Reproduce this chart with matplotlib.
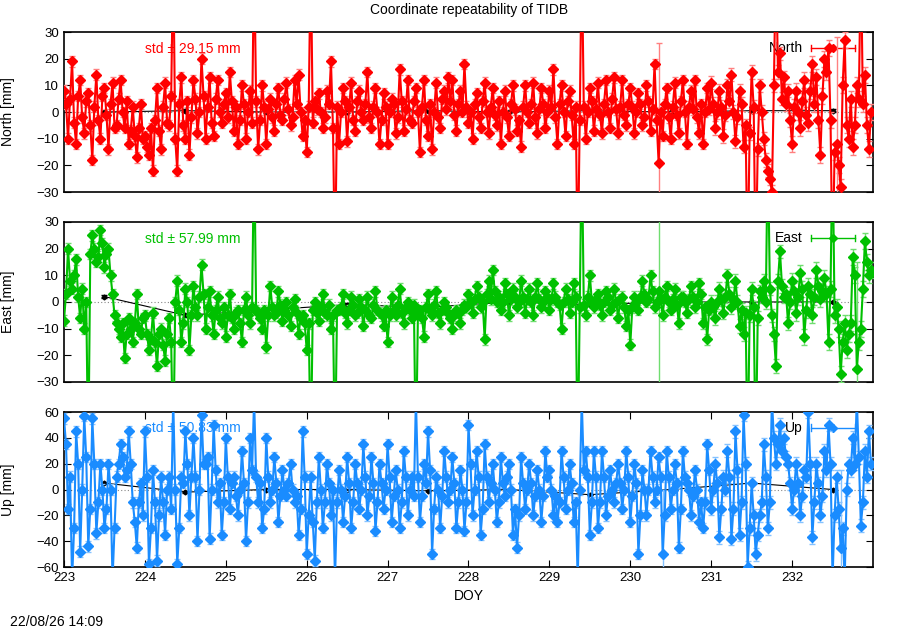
import numpy as np
import matplotlib
matplotlib.use('Agg')
import matplotlib.pyplot as plt

plt.rcParams['font.family'] = ['Liberation Sans', 'DejaVu Sans']

# epochs: two readings per 0.05 day step (at +0.000 and +0.025)
doy_a = np.round(np.arange(223.0, 233.0, 0.05), 3)
doy_b = np.round(doy_a + 0.025, 3)

# values [mm], 20 per day; +-60/70 = off-scale points
# *_a = band edges at the step, *_b = interior readings half a step later
north_a = [
    8, -10, 19, -12, 12, -8, 7, -18, 14, -10, 9, -14, 11, -5, 12, -6, -12, 2, -17, 3,
    -9, -16, -22, 9, -14, 11, -5, 60, -22, 13, -10, -16, 12, -8, 20, -10, 13, -9, 12, -4,
    7, 15, -7, -12, 10, -10, 8, 60, -14, 10, -12, 5, -7, 9, -3, 11, -5, 12, 14, -9,
    -15, 60, 4, 7, -6, 8, 19, -60, -12, 9, -11, 11, -7, 8, -3, 15, -6, 9, -12, 7,
    -12, 5, -8, 16, -7, 12, -4, 9, -15, 12, -9, -14, 11, -6, 8, 13, 12, -7, 8, 18,
    -4, -10, 7, -6, 11, -8, 9, -5, -12, 8, -9, 10, -7, -13, 10, -4, 11, -8, 9, -6,
    8, 16, -12, 10, -9, 8, -12, -60, 60, -10, 9, -7, 11, -8, 12, -6, 13, -8, 12, -5,
    9, -8, 7, -5, 10, -7, 18, -19, -9, 9, -10, 11, -8, 12, -12, 8, 12, -8, -12, 9,
    11, -6, 8, -9, 10, 14, -11, 8, -13, -60, 15, -60, 10, -10, -22, -30, 60, 22, 13, 8,
    -12, 8, -6, 12, -4, 18, 13, -16, 20, 24, -60, -12, -28, 27, -10, -13, 10, 60, 14, -14,
]
north_b = [
    3, 5, -4, 6, -2, 4, -5, 2, -3, 6, -1, 3, -6, 5, 0, 4, -7, -9, -6, -10,
    -13, -6, -3, -7, 2, -4, 6, -10, 3, -5, 4, -2, 5, 0, 6, 2, -4, 5, 0, 3,
    -2, 4, 2, -3, 3, 0, -4, 4, -3, 2, 1, -2, 3, -1, 5, 1, -2, 3, 0, -3,
    2, -4, 1, 0, -2, 3, -6, 2, 0, 4, 2, -3, 4, 0, 3, -2, 2, 0, -3, 2,
    0, 3, -2, 4, 1, -3, 4, 0, 2, -3, 3, 0, -2, 5, 1, 4, -1, 3, 0, 2,
    0, 3, -2, 4, 0, 2, -1, 4, 0, -2, 3, 1, -3, 2, 0, 3, -2, 1, 3, 0,
    2, -2, 3, 0, 4, -1, 2, -3, 2, 0, 4, 1, -1, 3, 0, 5, 1, 2, -1, 3,
    2, 0, 3, -2, 4, 1, -3, 0, 3, -2, 2, -1, 4, 0, 2, 1, -2, 3, 0, 1,
    3, 0, 2, -1, 4, 0, -2, 3, -5, -8, 2, -14, 0, -18, -25, 10, 15, 5, 3, -3,
    2, 0, 4, -1, 8, 3, -3, 6, 15, -3, -15, -20, 10, -5, 5, -5, 5, 3, -5, 0,
]
east_a = [
    -7, 20, 5, 16, -6, -10, -60, 25, 15, 27, 13, 20, 3, -8, -13, -21, -6, -15, 3, -12,
    -5, -18, -4, -24, -10, -22, -6, -60, 8, -15, 5, -18, 6, -5, 14, -10, 4, -12, 2, -8,
    -13, 3, -10, -3, -15, 2, -8, 60, -4, -10, -17, 6, -5, 4, -7, 0, -9, 1, -12, -5,
    -18, -60, 0, -7, 3, -5, -10, -60, -3, 3, -8, 2, -5, 1, -9, 2, -6, 4, -4, -9,
    -15, 2, -5, 5, -8, 0, -6, -60, -3, -13, 3, -5, 4, -8, 0, -4, -10, -3, -8, -1,
    3, -4, 6, -2, -14, 8, 12, 0, -3, 7, -5, 5, -2, 8, -4, 5, -5, 7, -2, 4,
    -3, 7, 0, -10, 5, -4, 7, -60, 60, -5, 10, -2, 3, -5, 4, -3, 5, -6, 2, -9,
    -16, 2, -3, 8, 0, 10, -2, 4, -5, 6, -3, 5, -8, 2, -4, 6, -2, 7, -8, -14,
    0, -6, 5, -4, 10, -2, 8, -9, -12, -60, 5, -60, 4, 8, 60, -5, -24, 19, 2, -8,
    8, -4, 11, -13, 6, -5, 12, 1, 9, -15, 60, -2, -27, -8, -12, 17, -25, -10, 23, 10,
]
east_b = [
    3, 8, 10, 2, 5, 0, 18, 20, 17, 22, 18, 10, -5, -10, -8, -12, -10, -8, -10, -6,
    -12, -14, -15, -12, -16, -12, -15, 0, -3, -8, 0, -5, -2, 2, 3, -2, -5, -3, -6, -2,
    -5, -6, -4, -8, -3, -5, -2, -3, -6, -3, -5, -2, -4, -1, -3, -5, -2, -4, -6, -8,
    -8, -3, -4, -2, -4, -1, -5, -3, -2, -4, -3, -1, -4, -2, -3, -5, -1, -3, -5, -3,
    -5, -3, -1, -4, -2, -3, -1, -4, -6, -2, -3, -1, -4, -3, -2, -6, -5, -4, -3, -2,
    0, 1, 2, 0, 3, 1, 4, 2, 0, 3, 1, 2, 0, 2, 1, 0, 2, 1, 0, 2,
    1, 2, -1, 0, 1, 0, 2, -2, -1, 2, 0, 1, -1, 0, 2, -1, 0, 1, -2, -3,
    -2, 0, 2, 3, 1, 4, 0, 1, 2, 0, 1, -1, 2, 0, 1, 2, 0, 3, -2, -3,
    -2, 0, 1, 2, 3, 1, 0, -3, -4, -5, -2, -6, 2, 0, 5, -12, 8, 6, 3, 0,
    4, 2, 5, -3, 3, 2, 6, 4, 3, 5, -5, -10, -15, -18, -8, 10, -15, 5, 15, 12,
]
up_a = [
    55, -15, -70, 45, -48, 57, -44, 55, -34, 20, -30, 20, -70, 10, 35, 10, 45, -10, -45, 5,
    45, -58, 15, -55, 10, -35, 10, 70, -58, 10, 45, -20, 40, -40, 58, 20, -38, 50, -10, -35,
    40, -15, 10, -20, 30, -40, 40, 70, -10, -30, 40, -10, 25, -25, 15, -5, 20, -10, -35, 45,
    -50, 10, -55, 25, -30, 20, -20, -70, 15, -25, 25, -30, 20, -15, 35, -20, 25, -32, 20, -15,
    35, -25, 15, -30, 30, -20, 10, 70, -25, 20, 45, -50, 10, -30, 30, -10, 25, -30, 15, -32,
    50, -20, 30, -35, 35, -10, 20, -25, 25, -5, 20, -35, -45, 25, -15, 20, -20, 15, -25, 30,
    15, -20, -25, 30, -15, 20, -25, -70, 70, 30, -35, 30, -30, 30, -20, 15, -10, 20, -15, 30,
    -25, 20, -50, 15, -20, 30, -10, 25, -50, 30, -15, 20, -45, 30, 5, -20, 15, -25, -30, 35,
    -15, 20, -37, 10, 30, -38, 45, -35, 58, -60, 5, -50, -20, 35, -30, 70, 20, 50, 40, 20,
    -15, 20, -20, 15, 60, -37, 20, -20, 30, 50, -70, 10, -45, -70, 20, 40, 70, -28, 30, 45,
]
up_b = [
    35, 10, -30, 20, 0, 25, -15, 20, -10, 0, -15, 0, -30, 20, 25, 15, 20, -25, -10, -20,
    10, -30, -10, -20, -10, 0, -15, 0, -30, 5, 20, 10, 10, 0, 20, 25, 0, 15, 5, -10,
    10, 5, -5, 0, 5, -10, 15, 10, 5, -15, 10, 0, 5, -5, 0, 5, 0, -5, -15, 10,
    -20, -25, -10, 0, -10, 5, 0, -10, 0, -5, 5, -10, 5, 0, 10, -5, 5, -10, 5, 0,
    10, -5, 0, -10, 10, 0, -5, 10, -5, 5, 15, -15, 0, -5, 10, 0, 5, -10, 0, -10,
    20, 0, 10, -15, 10, 5, 0, -10, 5, 10, 0, -15, -20, 5, 0, 5, -5, 0, -5, 10,
    0, -5, -10, 10, 0, 5, -10, 0, 15, 10, -10, 10, -10, 10, -5, 0, 5, 5, 0, 10,
    -5, 5, -20, 0, 0, 10, 0, 10, -20, 10, 0, 5, -15, 10, 0, -5, 0, -10, -10, 15,
    0, 5, -15, 0, 10, -15, 15, -10, 20, -30, -20, -35, -10, 10, -10, 40, 35, 30, 25, 5,
    0, 5, -5, 10, 20, -10, 5, -5, 15, 20, -20, -15, -30, 0, 15, 20, 25, -10, 10, 20,
]

# typical sigma per day [mm]
north_sig = [2, 2, 2, 2, 2, 2, 2, 2, 2.5, 3]
east_sig = [2, 2, 2, 2, 2, 2, 2, 2, 2.5, 3]
up_sig = [4, 4, 4, 4, 4, 4, 4, 4, 5, 5]
# a few very large error bars
north_wide = {230.35: 45, 232.55: 40}
east_wide = {230.35: 45, 232.80: 40}
up_wide = {230.40: 50, 232.60: 60}

# daily solutions (black)
daily_doy = [223.5, 224.5, 225.5, 226.5, 227.5, 228.5, 229.5, 230.5, 231.5, 232.5]
north_daily = [0, 0.5, 0, 0, 0.5, 0, 0.5, 0, 0.5, 0.5]
east_daily = [2, -5, -3, -1, -2, 0, -1, 0, 0, 0]
up_daily = [5, -2, 0, 0, -1, 0, -4, 0, 5, 0]

std_text = ['std \u00b1 29.15 mm', 'std \u00b1 57.99 mm', 'std \u00b1 50.83 mm']

doy = np.column_stack([doy_a, doy_b]).ravel()


def merge(a, b):
    return np.column_stack([a, b]).ravel()


def make_err(sig, wide):
    err = np.repeat(np.array(sig, dtype=float), 40)
    for d, e in wide.items():
        err[np.isclose(doy, d)] = e
    return err


panels = [
    (merge(north_a, north_b), make_err(north_sig, north_wide), north_daily,
     'North', '#ff0000', '#ff8080', 30, 10, 0.6952, 0.254),
    (merge(east_a, east_b), make_err(east_sig, east_wide), east_daily,
     'East', '#00c000', '#70dd70', 30, 10, 0.3937, 0.254),
    (merge(up_a, up_b), make_err(up_sig, up_wide), up_daily,
     'Up', '#1a8cff', '#85c2ff', 60, 20, 0.1, 0.246),
]

fig = plt.figure(figsize=(9, 6.3), dpi=100)

for i, (vals, err, daily, name, col, lcol, lim, step, bot, h) in enumerate(panels):
    ax = fig.add_axes([0.0711, bot, 0.8989, h])
    ax.axhline(0, color='#888888', lw=0.8, ls=(0, (1, 2)), zorder=1)
    ax.errorbar(daily_doy, daily, yerr=0.5, fmt='-D', color='black', ms=2.5,
                lw=0.8, capsize=2, zorder=2)
    ax.errorbar(doy, vals, yerr=err, fmt='-D', color=col, ecolor=lcol,
                elinewidth=1.0, capsize=2.5, ms=5.5, lw=1.5, zorder=3)
    ax.set_xlim(223, 233)
    ax.set_ylim(-lim, lim)
    ax.set_yticks(np.arange(-lim, lim + 1, step))
    ax.tick_params(direction='in', length=5, right=True, labelsize=9.5, width=0.8)
    if i < 2:
        ax.set_xticks([])
    else:
        ax.set_xticks(np.arange(223, 233))
        ax.tick_params(top=True)
        ax.set_xlabel('DOY', fontsize=10)
    for s in ax.spines.values():
        s.set_linewidth(1.2)
    ax.set_ylabel(name + ' [mm]', fontsize=10)
    ax.yaxis.set_label_coords(-0.06, 0.5)
    # labels sit under the data, as in gnuplot
    ax.text(0.1, 0.895, std_text[i], transform=ax.transAxes, color=col,
            fontsize=10, va='center', ha='left', zorder=1.5)
    # key sample
    ax.text(0.913, 0.9, name, transform=ax.transAxes, fontsize=10,
            va='center', ha='right', zorder=1.5)
    ax.plot([0.923, 0.978], [0.9, 0.9], transform=ax.transAxes, color=col, lw=1, zorder=1.5)
    ax.plot([0.923, 0.923], [0.88, 0.92], transform=ax.transAxes, color=col, lw=1, zorder=1.5)
    ax.plot([0.978, 0.978], [0.88, 0.92], transform=ax.transAxes, color=col, lw=1, zorder=1.5)
    ax.plot([0.951], [0.9], 'D', transform=ax.transAxes, color=col, ms=4.5, zorder=1.5)

fig.text(0.521, 0.984, 'Coordinate repeatability of TIDB', ha='center', va='center', fontsize=10)
fig.text(0.011, 0.0127, '22/08/26 14:09', ha='left', va='center', fontsize=10)

fig.savefig('out.png', dpi=100)
